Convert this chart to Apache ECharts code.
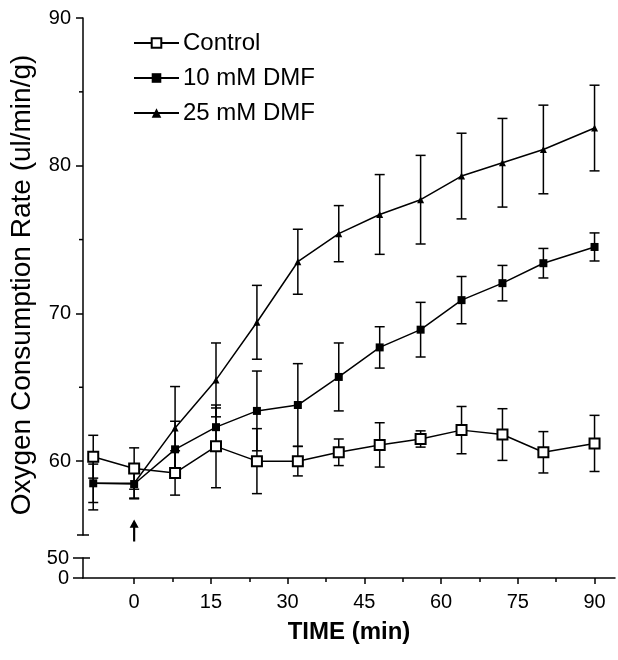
<!DOCTYPE html>
<html>
<head>
<meta charset="utf-8">
<script src="https://cdn.jsdelivr.net/npm/echarts@6/dist/echarts.min.js"></script>
<style>html,body{margin:0;padding:0;background:#fff}#c{width:618px;height:660px}</style>
</head>
<body>
<div id="c"></div>
<script>
const times = [-8, 0, 8, 16, 24, 32, 40, 48, 56, 64, 72, 80, 90];
const control = [60.3, 59.5, 59.2, 61.0, 60.0, 60.0, 60.6, 61.1, 61.5, 62.1, 61.8, 60.6, 61.2];
const controlErr = [1.45, 1.4, 1.5, 2.8, 2.2, 1.0, 0.9, 1.5, 0.55, 1.6, 1.75, 1.4, 1.9];
const dmf10 = [58.5, 58.45, 60.8, 62.3, 63.4, 63.8, 65.7, 67.7, 68.9, 70.9, 72.05, 73.4, 74.5];
const dmf10Err = [1.8, 1.0, 1.9, 1.3, 2.7, 2.8, 2.3, 1.4, 1.85, 1.6, 1.2, 1.0, 0.95];
const dmf25 = [58.5, 58.5, 62.25, 65.5, 69.4, 73.5, 75.4, 76.7, 77.7, 79.3, 80.2, 81.1, 82.55];
const dmf25Err = [1.3, 1.0, 2.8, 2.5, 2.5, 2.2, 1.9, 2.7, 3.0, 2.9, 3.0, 3.0, 2.9];
const xTicks = [0, 15, 30, 45, 60, 75, 90];
const xMinorTicks = [7.5, 22.5, 37.5, 52.5, 67.5, 82.5];
const yTicks = [60, 70, 80, 90];
const yMinorTicks = [65, 75, 85];
const seriesNames = ['Control', '10 mM DMF', '25 mM DMF'];

const FONT = 'Liberation Sans, Arial, Helvetica, sans-serif';
const chart = echarts.init(document.getElementById('c'));

function pts(ys) { return times.map((t, i) => [t, ys[i]]); }
function errData(ys, es) { return times.map((t, i) => [t, ys[i] - es[i], ys[i] + es[i]]); }
function errRender(params, api) {
  const x = api.value(0), lo = api.value(1), hi = api.value(2);
  const a = api.coord([x, hi]), b = api.coord([x, lo]);
  const w = 5;
  const st = { stroke: '#000', lineWidth: 1.5 };
  return { type: 'group', children: [
    { type: 'line', shape: { x1: a[0], y1: a[1], x2: b[0], y2: b[1] }, style: st },
    { type: 'line', shape: { x1: a[0] - w, y1: a[1], x2: a[0] + w, y2: a[1] }, style: st },
    { type: 'line', shape: { x1: b[0] - w, y1: b[1], x2: b[0] + w, y2: b[1] }, style: st }
  ]};
}
function capRender(left, right) {
  return function (params, api) {
    const p = api.coord([api.value(0), api.value(1)]);
    return { type: 'line', shape: { x1: p[0] - left, y1: p[1], x2: p[0] + right, y2: p[1] },
      style: { stroke: '#000', lineWidth: 1.5 } };
  };
}

const lineCommon = {
  type: 'line', xAxisIndex: 0, yAxisIndex: 0, z: 5,
  lineStyle: { color: '#000', width: 1.5 },
  emphasis: { disabled: true }, animation: false
};

const option = {
  animation: false,
  backgroundColor: '#fff',
  textStyle: { fontFamily: FONT, color: '#000' },
  grid: [
    { left: 83, right: 3, top: 18, height: 517 },
    { left: 83, right: 3, top: 558, height: 20 }
  ],
  legend: {
    data: seriesNames,
    orient: 'vertical', left: 128, top: 26,
    itemWidth: 45, itemHeight: 12, itemGap: 11,
    textStyle: { fontSize: 24, fontFamily: FONT, color: '#000', lineHeight: 24, padding: [0, 0, 0, -1] },
    selectedMode: false
  },
  xAxis: [
    { gridIndex: 0, type: 'value', min: -10, max: 94, show: false },
    { gridIndex: 1, type: 'value', min: -10, max: 94, position: 'bottom',
      axisLine: { onZero: false, lineStyle: { color: '#000', width: 1.5 } },
      axisTick: { customValues: xTicks, length: 6, lineStyle: { color: '#000', width: 1.5 } },
      axisLabel: { customValues: xTicks, fontSize: 20, color: '#000', margin: 14, fontFamily: FONT },
      splitLine: { show: false },
      name: 'TIME (min)', nameLocation: 'middle', nameGap: 42,
      nameTextStyle: { fontSize: 24, fontWeight: 'bold', color: '#000', fontFamily: FONT }
    },
    { gridIndex: 1, type: 'value', min: -10, max: 94, position: 'bottom',
      axisLine: { show: false, onZero: false },
      axisTick: { show: true, customValues: xMinorTicks, length: 4, lineStyle: { color: '#000', width: 1.5 } },
      axisLabel: { show: false }, splitLine: { show: false }
    }
  ],
  yAxis: [
    { gridIndex: 0, type: 'value', min: 55, max: 90, position: 'left',
      axisLine: { show: true, onZero: false, lineStyle: { color: '#000', width: 1.5 } },
      axisTick: { show: true, customValues: yTicks, length: 7, lineStyle: { color: '#000', width: 1.5 } },
      axisLabel: { customValues: yTicks, fontSize: 20, color: '#000', margin: 12, fontFamily: FONT },
      splitLine: { show: false }
    },
    { gridIndex: 1, type: 'value', min: 0, max: 50, interval: 50, position: 'left',
      axisLine: { show: true, onZero: false, lineStyle: { color: '#000', width: 1.5 } },
      axisTick: { show: true, length: 10, lineStyle: { color: '#000', width: 1.5 } },
      axisLabel: { fontSize: 20, color: '#000', margin: 14, fontFamily: FONT },
      splitLine: { show: false }
    }
  ],
  series: [
    { type: 'custom', name: 'errC', xAxisIndex: 0, yAxisIndex: 0, z: 3, renderItem: errRender, data: errData(control, controlErr), silent: true },
    { type: 'custom', name: 'err10', xAxisIndex: 0, yAxisIndex: 0, z: 3, renderItem: errRender, data: errData(dmf10, dmf10Err), silent: true },
    { type: 'custom', name: 'err25', xAxisIndex: 0, yAxisIndex: 0, z: 3, renderItem: errRender, data: errData(dmf25, dmf25Err), silent: true },
    Object.assign({}, lineCommon, {
      name: '25 mM DMF', data: pts(dmf25), z: 4,
      symbol: 'triangle', symbolSize: 7,
      itemStyle: { color: '#000' },
      markPoint: {
        silent: true,
        label: { show: false },
        itemStyle: { color: '#000' },
        data: [{ coord: [0, 55.3], symbol: 'path://M5,0 L10,9 L6.2,9 L6.2,24 L3.8,24 L3.8,9 L0,9 Z', symbolSize: [9, 22] }]
      }
    }),
    Object.assign({}, lineCommon, {
      name: '10 mM DMF', data: pts(dmf10), z: 5,
      symbol: 'rect', symbolSize: 8,
      itemStyle: { color: '#000' }
    }),
    Object.assign({}, lineCommon, {
      name: 'Control', data: pts(control), z: 6,
      symbol: 'emptyRect', symbolSize: 10,
      itemStyle: { color: '#000', borderColor: '#000', borderWidth: 1.5 }
    }),
    { type: 'custom', name: 'yMinor', xAxisIndex: 0, yAxisIndex: 0, renderItem: capRender(4, 0), data: yMinorTicks.map(v => [-10, v]), silent: true, clip: false },
    { type: 'custom', name: 'capTop', xAxisIndex: 0, yAxisIndex: 0, renderItem: capRender(6, 6), data: [[-10, 55]], silent: true, clip: false },
    { type: 'custom', name: 'capLow', xAxisIndex: 1, yAxisIndex: 1, renderItem: capRender(0, 7), data: [[-10, 50]], silent: true, clip: false }
  ],
  graphic: [
    { type: 'text', x: 22, y: 285, rotation: Math.PI / 2,
      style: { text: 'Oxygen Consumption Rate (ul/min/g)', font: '28px ' + FONT, fill: '#000',
        align: 'center', verticalAlign: 'middle', textAlign: 'center', textVerticalAlign: 'middle' } }
  ]
};
chart.setOption(option);
</script>
</body>
</html>
